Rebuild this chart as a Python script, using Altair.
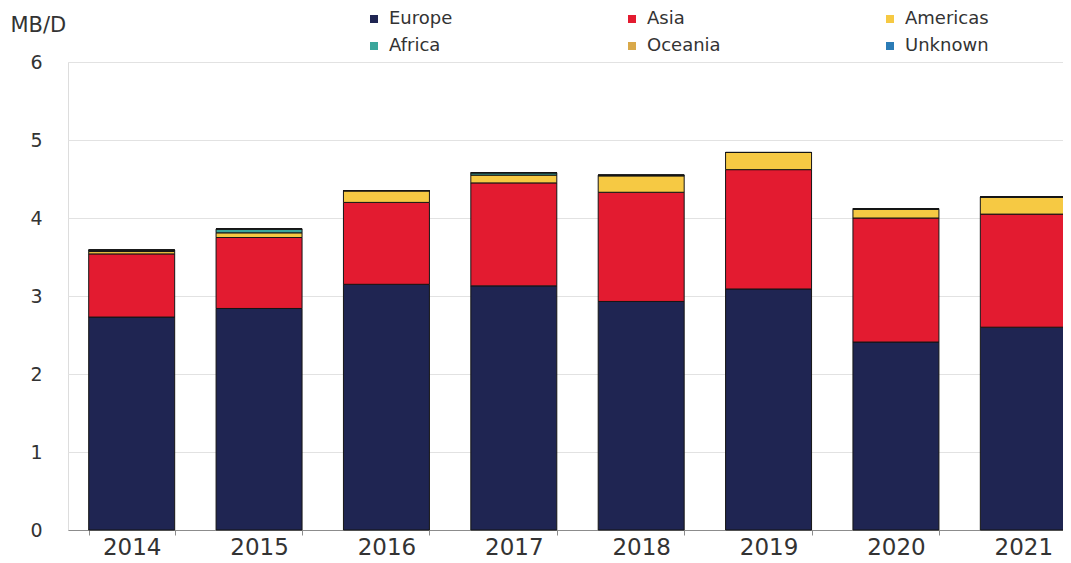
import altair as alt
import pandas as pd

years = ["2014", "2015", "2016", "2017", "2018", "2019", "2020", "2021"]
regions = ["Europe", "Asia", "Americas", "Africa", "Oceania", "Unknown"]
colors = ["#1f2552", "#e31b30", "#f6c943", "#3aa69b", "#d9a94a", "#2b7cb6"]
y_ticks = [0, 1, 2, 3, 4, 5, 6]

europe = [2.73, 2.84, 3.15, 3.13, 2.93, 3.09, 2.41, 2.60]
asia = [0.81, 0.91, 1.05, 1.32, 1.40, 1.53, 1.59, 1.45]
americas = [0.03, 0.06, 0.15, 0.10, 0.21, 0.22, 0.11, 0.22]
africa = [0.02, 0.05, 0.00, 0.03, 0.01, 0.00, 0.01, 0.00]
oceania = [0.0, 0.0, 0.0, 0.0, 0.0, 0.0, 0.0, 0.0]
unknown = [0.0, 0.0, 0.0, 0.0, 0.0, 0.0, 0.0, 0.0]

series = [europe, asia, americas, africa, oceania, unknown]
rows = []
for ri, (name, vals) in enumerate(zip(regions, series)):
    for y, v in zip(years, vals):
        rows.append({"year": y, "region": name, "value": v, "idx": ri})
df = pd.DataFrame(rows)

FONT = "DejaVu Sans"

chart = (
    alt.Chart(df)
    .mark_bar(stroke="#151515", strokeWidth=1)
    .encode(
        x=alt.X(
            "year:N",
            sort=years,
            scale=alt.Scale(range=[0, 1019], paddingInner=0.325, paddingOuter=0.1625),
            axis=alt.Axis(
                title=None,
                labelAngle=0,
                labelFontSize=23,
                labelFont=FONT,
                labelColor="#333333",
                tickBand="extent",
                tickSize=5,
                tickColor="#8c8c8c",
                domainColor="#8c8c8c",
                labelPadding=1,
                grid=False,
            ),
        ),
        y=alt.Y(
            "value:Q",
            stack="zero",
            scale=alt.Scale(domain=[0, 6], nice=False),
            axis=alt.Axis(
                title="MB/D",
                values=y_ticks,
                labelFontSize=19,
                labelFont=FONT,
                labelColor="#333333",
                labelPadding=26,
                domain=False,
                ticks=False,
                gridColor="#e2e2e2",
                gridWidth=1,
                titleAngle=0,
                titleAlign="left",
                titleBaseline="alphabetic",
                titleX=-58,
                titleY=-31,
                titleFont=FONT,
                titleFontSize=21,
                titleFontWeight="normal",
                titleColor="#333333",
            ),
        ),
        color=alt.Color(
            "region:N",
            sort=regions,
            scale=alt.Scale(domain=regions, range=colors),
            legend=alt.Legend(
                title=None,
                orient="none",
                legendX=297,
                legendY=-52,
                direction="horizontal",
                columns=3,
                gridAlign="all",
                columnPadding=150,
                rowPadding=9,
                symbolType="square",
                symbolSize=64,
                symbolStrokeWidth=0,
                labelOffset=6,
                labelFont=FONT,
                labelFontSize=18,
                labelColor="#333333",
                padding=0,
            ),
        ),
        order=alt.Order("idx:Q", sort="ascending"),
    )
    .properties(
        width=995,
        height=468,
        padding={"left": 60, "top": 54, "right": 0, "bottom": 33},
        autosize=alt.AutoSizeParams(type="none"),
    )
    .configure_view(stroke="transparent", strokeWidth=0, strokeOpacity=0)
    .configure(background="white")
)

chart.save("out.html", embed_options={"renderer": "svg", "actions": False})
